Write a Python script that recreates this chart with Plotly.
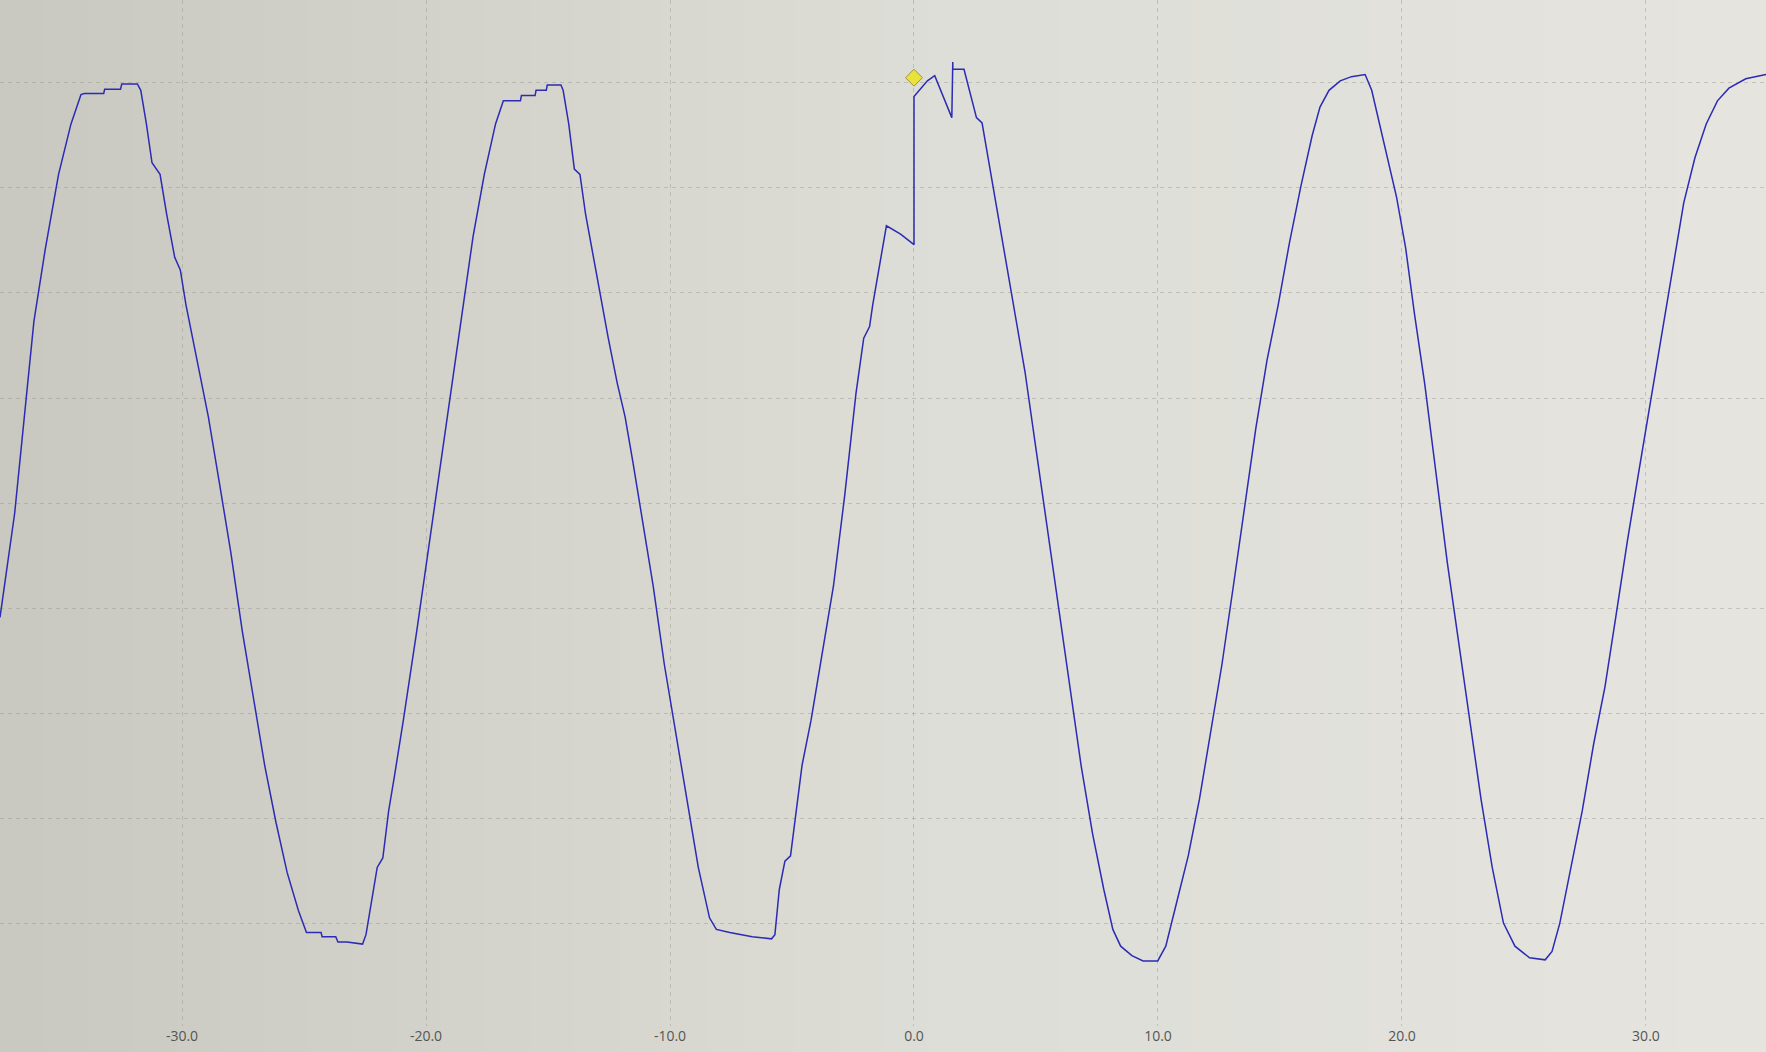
import plotly.graph_objects as go

# Time axis (divisions of the scope, x labels as shown) and trace amplitude (grid divisions)
time_ms = [
    -37.46, -36.86, -36.07, -35.61, -35.06, -34.55, -34.14,
    -34.00, -33.21, -33.17, -32.52, -32.47, -31.83,
    -31.69, -31.46, -31.23, -30.90, -30.63, -30.30, -30.07, -29.84, -29.38, -28.92,
    -28.46, -28.00, -27.53, -27.07, -26.61, -26.15, -25.69, -25.23, -24.90,
    -24.30, -24.26, -23.70, -23.61, -23.24, -22.60,
    -22.46, -22.23, -22.00, -21.77, -21.53, -21.30, -20.93, -20.38, -19.92, -19.46,
    -19.00, -18.53, -18.07, -17.61, -17.15, -16.83,
    -16.13, -16.09, -15.53, -15.49, -15.07, -15.03, -14.47,
    -14.38, -14.15, -13.92, -13.69, -13.46, -13.13, -12.86, -12.53, -12.16, -11.84,
    -11.52, -11.15, -10.69, -10.23, -9.76, -9.30, -8.84, -8.38, -8.10,
    -7.55, -6.99, -6.63, -5.84,
    -5.70, -5.52, -5.29, -5.06, -4.82, -4.59, -4.22, -3.76, -3.30, -2.84, -2.38,
    -2.06, -1.82, -1.69, -1.13, -0.55, 0.00,
    0.00, 0.30, 0.55, 0.85, 1.55, 1.59, 1.59, 2.05, 2.56, 2.79, 3.72,
    4.08, 4.55, 5.01, 5.47, 5.93, 6.39, 6.85, 7.32, 7.78, 8.15, 8.47, 8.93, 9.39, 9.99,
    10.32, 10.78, 11.24, 11.70, 12.16, 12.62, 13.09, 13.55, 14.01, 14.47, 14.93,
    15.39, 15.86, 16.32, 16.64, 17.01, 17.47, 17.93, 18.49,
    18.76, 19.09, 19.41, 19.78, 20.15, 20.52, 20.93, 21.39, 21.86, 22.32, 22.78,
    23.24, 23.70, 24.16, 24.63, 25.23, 25.87, 26.15,
    26.47, 26.93, 27.39, 27.86, 28.32, 28.78, 29.24, 29.70, 30.16, 30.63, 31.09,
    31.55, 32.01, 32.47, 32.93, 33.40, 34.09, 34.92,
]
signal_div = [
    -1.09, -0.10, 1.73, 2.41, 3.13, 3.61, 3.89,
    3.90, 3.90, 3.94, 3.94, 3.99, 3.99,
    3.93, 3.61, 3.24, 3.13, 2.75, 2.34, 2.22, 1.89, 1.36, 0.82,
    0.18, -0.47, -1.22, -1.86, -2.50, -3.04, -3.52, -3.88, -4.09,
    -4.09, -4.13, -4.13, -4.18, -4.18, -4.20,
    -4.11, -3.79, -3.47, -3.38, -2.93, -2.61, -2.07, -1.22, -0.47, 0.29,
    1.04, 1.79, 2.54, 3.13, 3.61, 3.83,
    3.83, 3.88, 3.88, 3.93, 3.93, 3.98, 3.98,
    3.93, 3.61, 3.18, 3.13, 2.75, 2.32, 2.00, 1.57, 1.14, 0.82,
    0.39, -0.14, -0.79, -1.54, -2.18, -2.82, -3.47, -3.95, -4.06,
    -4.09, -4.11, -4.13, -4.15,
    -4.11, -3.68, -3.41, -3.36, -2.93, -2.50, -2.07, -1.43, -0.79, 0.07, 1.04,
    1.57, 1.68, 1.89, 2.64, 2.56, 2.46,
    3.87, 3.95, 4.02, 4.07, 3.67, 4.20, 4.13, 4.13, 3.67, 3.62, 2.38,
    1.89, 1.25, 0.50, -0.25, -1.00, -1.75, -2.50, -3.15, -3.68, -4.06, -4.22, -4.31, -4.36, -4.36,
    -4.22, -3.79, -3.36, -2.82, -2.18, -1.54, -0.79, -0.04, 0.71, 1.36, 1.89,
    2.48, 3.02, 3.50, 3.77, 3.93, 4.02, 4.06, 4.08,
    3.93, 3.61, 3.29, 2.91, 2.43, 1.79, 1.14, 0.29, -0.57, -1.32, -2.07,
    -2.82, -3.47, -4.00, -4.22, -4.33, -4.35, -4.27,
    -4.00, -3.47, -2.93, -2.29, -1.75, -1.06, -0.36, 0.29, 0.93, 1.57, 2.22,
    2.86, 3.29, 3.61, 3.83, 3.95, 4.04, 4.08,
]

trigger_time = [0.0]
trigger_level = [4.05]

x_ticks = [-30, -20, -10, 0, 10, 20, 30]
x_tick_text = ["-30.0", "-20.0", "-10.0", "0.0", "10.0", "20.0", "30.0"]

W, H = 1766, 1052

fig = go.Figure()
fig.add_trace(go.Scatter(
    x=time_ms, y=signal_div, mode="lines",
    line=dict(color="#2b2bb3", width=1.5),
    hoverinfo="skip", showlegend=False,
))
fig.add_trace(go.Scatter(
    x=trigger_time, y=trigger_level, mode="markers",
    marker=dict(symbol="diamond", size=13, color="#e8e23a",
                line=dict(color="#9c9440", width=1)),
    hoverinfo="skip", showlegend=False,
))

# background gradient (photo lighting), drawn below the grid
def mix(c1, c2, t):
    return "rgb(%d,%d,%d)" % tuple(round(a + (b - a) * t) for a, b in zip(c1, c2))

left_c, mid_c, right_c = (201, 201, 194), (220, 221, 214), (230, 228, 223)
n = 40
shapes = []
for i in range(n):
    t = i / (n - 1)
    col = mix(left_c, mid_c, t * 2) if t < 0.5 else mix(mid_c, right_c, (t - 0.5) * 2)
    shapes.append(dict(type="rect", xref="paper", yref="paper",
                       x0=i / n, x1=(i + 1) / n + 0.002, y0=-0.03, y1=1.0,
                       fillcolor=col, line=dict(width=0), layer="below"))

grid = dict(showgrid=True, gridcolor="rgba(140,140,128,0.38)", gridwidth=1.4,
            griddash="4px,4px", zeroline=False, showline=False)

fig.update_layout(
    width=W, height=H,
    margin=dict(l=0, r=0, t=0, b=26),
    paper_bgcolor="#d6d6cf", plot_bgcolor="rgba(0,0,0,0)",
    shapes=shapes,
    xaxis=dict(range=[-37.46, 34.92], tickmode="array", tickvals=x_ticks,
               ticktext=x_tick_text, ticks="", ticklen=0,
               tickfont=dict(family="Open Sans", size=14, color="#555555"),
               **grid),
    yaxis=dict(range=[-4.98, 4.79], dtick=1, tick0=0, showticklabels=False,
               ticks="", **grid),
)

fig.write_html("out.html", include_plotlyjs=True,
               config={"displayModeBar": False},
               post_script="document.body.style.margin='0';document.body.style.overflow='hidden';")
